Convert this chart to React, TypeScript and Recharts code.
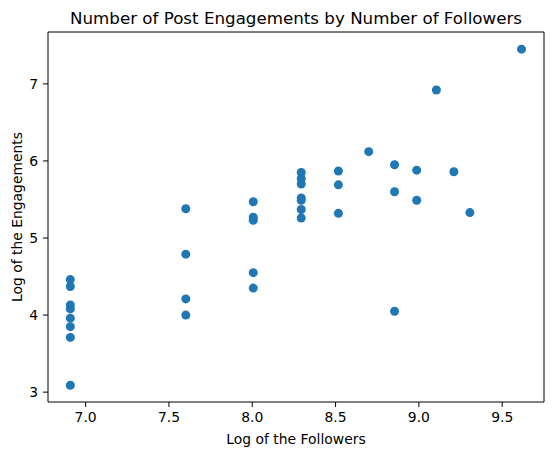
import React from "react";
import { ScatterChart, Scatter, XAxis, YAxis } from "recharts";

// log of followers for each account, and log of its engagements
const followers = [
  6.908, 6.908, 6.908, 6.908, 6.908, 6.908, 6.908, 6.908,
  7.601, 7.601, 7.601, 7.601,
  8.006, 8.006, 8.006, 8.006, 8.006,
  8.294, 8.294, 8.294, 8.294, 8.294, 8.294, 8.294,
  8.517, 8.517, 8.517,
  8.699,
  8.854, 8.854, 8.854,
  8.987, 8.987,
  9.105, 9.21, 9.306, 9.616,
];
const engagements = [
  4.46, 4.37, 4.13, 4.08, 3.96, 3.85, 3.71, 3.09,
  5.38, 4.79, 4.21, 4.0,
  5.47, 5.27, 5.23, 4.55, 4.35,
  5.85, 5.77, 5.7, 5.52, 5.49, 5.37, 5.26,
  5.87, 5.69, 5.32,
  6.12,
  5.95, 5.6, 4.05,
  5.88, 5.49,
  6.92, 5.86, 5.33, 7.45,
];

const xTicks = [7.0, 7.5, 8.0, 8.5, 9.0, 9.5];
const yTicks = [3, 4, 5, 6, 7];
const xDomain = [6.774, 9.751];
const yDomain = [2.872, 7.673];

const points = followers.map((x, i) => ({ x, y: engagements[i] }));

const font = "'DejaVu Sans', sans-serif";
const tickStyle = { fontSize: 13.9, fill: "#000", fontFamily: font };

const Dot = (props: any) => (
  <circle cx={props.cx} cy={props.cy} r={4.5} fill="#1f77b4" />
);
const NoDot = () => <g />;

export default function App() {
  return (
    <div style={{ position: "relative", width: 546, height: 447 }}>
      <div
        style={{
          position: "absolute",
          top: 0,
          left: 40,
          width: 496,
          textAlign: "center",
          fontFamily: font,
          fontSize: 16.7,
          lineHeight: "20px",
          color: "#000",
        }}
      >
        Number of Post Engagements by Number of Followers
      </div>
      <ScatterChart
        width={546}
        height={447}
        margin={{ top: 23, right: 9, left: 0, bottom: 0 }}
      >
        <XAxis
          type="number"
          dataKey="x"
          domain={xDomain}
          allowDataOverflow
          ticks={xTicks}
          tickFormatter={(v: number) => v.toFixed(1)}
          height={53}
          tickSize={5}
          tickMargin={5}
          tick={tickStyle}
          stroke="#000"
          label={{
            value: "Log of the Followers",
            position: "insideBottom",
            offset: 11,
            style: { fontSize: 13.9, fill: "#000", fontFamily: font },
          }}
        />
        <YAxis
          type="number"
          dataKey="y"
          domain={yDomain}
          allowDataOverflow
          ticks={yTicks}
          width={40}
          tickSize={5}
          tickMargin={5}
          tick={tickStyle}
          stroke="#000"
          label={{
            value: "Log of the Engagements",
            angle: -90,
            position: "center",
            dx: -11,
            style: { fontSize: 13.9, fill: "#000", fontFamily: font },
          }}
        />
        {/* top and right spines */}
        <XAxis
          xAxisId="top"
          orientation="top"
          type="number"
          dataKey="x"
          domain={xDomain}
          allowDataOverflow
          height={1}
          tick={false}
          tickLine={false}
          stroke="#000"
        />
        <YAxis
          yAxisId="right"
          orientation="right"
          type="number"
          dataKey="y"
          domain={yDomain}
          allowDataOverflow
          width={1}
          tick={false}
          tickLine={false}
          stroke="#000"
        />
        <Scatter
          data={points}
          xAxisId="top"
          yAxisId="right"
          shape={NoDot}
          isAnimationActive={false}
        />
        <Scatter data={points} shape={Dot} isAnimationActive={false} />
      </ScatterChart>
    </div>
  );
}
